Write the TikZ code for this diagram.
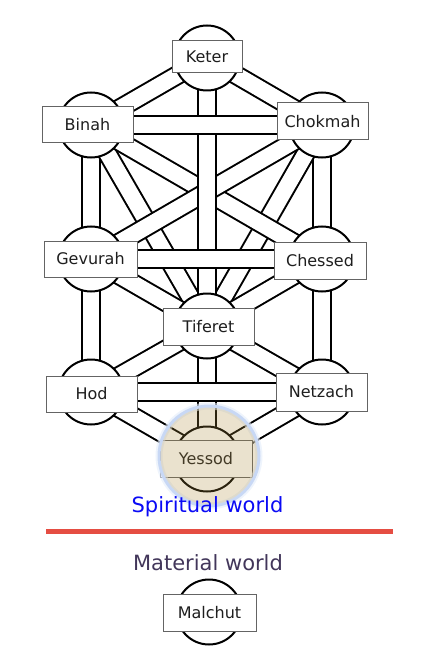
\documentclass[tikz,border=0pt]{standalone}
\usepackage{fontspec}
\setmainfont{DejaVu Sans}
\usetikzlibrary{calc}
\definecolor{boxborder}{RGB}{100,100,100}
\definecolor{labeltext}{RGB}{30,30,30}
\definecolor{spiritblue}{RGB}{10,10,245}
\definecolor{materialgrey}{RGB}{66,54,90}
\definecolor{dividerred}{RGB}{229,77,66}
\definecolor{halofill}{RGB}{174,141,61}
\definecolor{haloring}{RGB}{200,216,245}
\begin{document}
\begin{tikzpicture}[x=1pt,y=-1pt,
  chan/.style={draw=black, line width=2pt, double=white, double distance=16pt},
  sefcircle/.style={circle, draw=black, line width=2pt, fill=white, minimum size=65pt, inner sep=0pt},
  sefbox/.style={rectangle, draw=boxborder, line width=1pt, fill=white, minimum width=91pt, minimum height=37pt, inner sep=0pt, text=labeltext, font=\fontsize{16}{19}\selectfont},
  worldlabel/.style={font=\fontsize{21}{25}\selectfont, anchor=base, inner sep=0pt}]
\useasboundingbox (0,0) rectangle (422,655);
% centres of the sefirot
\coordinate (pK) at (207,58);
\coordinate (pB) at (91,125);
\coordinate (pC) at (322,125);
\coordinate (pG) at (91,259);
\coordinate (pCh) at (322,259);
\coordinate (pT) at (207,326);
\coordinate (pH) at (91,392);
\coordinate (pN) at (322,392);
\coordinate (pY) at (207,459);
\coordinate (pM) at (209,612);
% channels, back to front
\draw[chan] (pK) -- (pB);
\draw[chan] (pK) -- (pC);
\draw[chan] (pB) -- (pG);
\draw[chan] (pC) -- (pCh);
\draw[chan] (pG) -- (pH);
\draw[chan] (pCh) -- (pN);
\draw[chan] (pB) -- (pT);
\draw[chan] (pC) -- (pT);
\draw[chan] (pB) -- (pCh);
\draw[chan] (pC) -- (pG);
\draw[chan] (pG) -- (pT);
\draw[chan] (pCh) -- (pT);
\draw[chan] (pT) -- (pH);
\draw[chan] (pT) -- (pN);
\draw[chan] (pH) -- (pY);
\draw[chan] (pN) -- (pY);
\draw[chan] (pK) -- (pT);
\draw[chan] (pT) -- (pY);
\draw[chan] (pB) -- (pC);
\draw[chan] (pG) -- (pCh);
\draw[chan] (pH) -- (pN);
% circles
\foreach \p/\n in {pK/cK,pB/cB,pC/cC,pG/cG,pCh/cCh,pT/cT,pH/cH,pN/cN,pY/cY,pM/cM}
  \node[sefcircle] (\n) at (\p) {};
% boxes
\node[sefbox, minimum width=70pt, minimum height=32pt] (keter) at (207,57) {Keter};
\node[sefbox, minimum height=36pt] (binah) at (87.5,125) {Binah};
\node[sefbox] (chokmah) at (322.5,121.5) {Chokmah};
\node[sefbox, minimum width=93pt, minimum height=36pt] (gevurah) at (90.5,259) {Gevurah};
\node[sefbox, minimum width=92pt] (chessed) at (320,260.5) {Chessed};
\node[sefbox] (tiferet) at (208.5,326.5) {Tiferet};
\node[sefbox, minimum height=36pt] (hod) at (91.5,394) {Hod};
\node[sefbox, minimum height=38pt] (netzach) at (321.5,392) {Netzach};
\node[sefbox, minimum width=92pt] (yessod) at (206,458.5) {Yessod};
\node[sefbox, minimum width=93pt] (malchut) at (209.5,612.5) {Malchut};
% highlight on Yessod
\draw[haloring!50!white, line width=7pt, opacity=0.6] (209,456) circle (50);
\fill[halofill, opacity=0.25] (209,456) circle (50);
\draw[haloring, line width=3pt] (209,456) circle (50);
% worlds
\node[worldlabel, text=spiritblue] (spiritual) at (207.5,512) {Spiritual world};
\draw[dividerred, line width=4.5pt] (46,531.5) -- (393,531.5);
\node[worldlabel, text=materialgrey] (material) at (208,570) {Material world};
\end{tikzpicture}
\end{document}
